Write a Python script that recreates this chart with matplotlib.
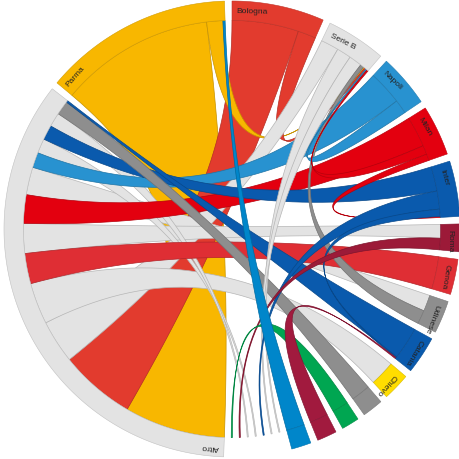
import numpy as np
import matplotlib
matplotlib.use('Agg')
import matplotlib.pyplot as plt
from matplotlib.patches import Polygon
from matplotlib.colors import to_rgb

## groups, clockwise from 12 o'clock (g* and t* are unlabeled small clubs)
groups = ['Bologna', 'Serie B', 'Napoli', 'Milan', 'Inter', 'Roma', 'Genoa',
          'Udinese', 'Catania', 'Chievo', 'g1', 'g2', 'g3', 'g4',
          't1', 't2', 't3', 't4', 't5', 't6', 't7', 'Altro', 'Parma']
labels = ['Bologna', 'Serie B', 'Napoli', 'Milan', 'Inter', 'Roma', 'Genoa',
          'Udinese', 'Catania', 'Chievo', '', '', '', '',
          '', '', '', '', '', '', '', 'Altro', 'Parma']
colors = ['#E23B2E', '#E3E3E3', '#2892D0', '#E3000F', '#0A5AAD', '#9C1A38', '#DF2E34',
          '#8E8E8E', '#0A5AAD', '#FFDD00', '#8E8E8E', '#00A651', '#A11A3E', '#0086CA',
          'none', 'none', 'none', 'none', 'none', 'none', 'none', '#E3E3E3', '#F8B700']

## flows: (group coloring the ribbon, other group, width at first end, width at second end)
flows = [
    ('Parma',   'Altro',   43.0, 28.0),
    ('Bologna', 'Altro',   18.5, 21.0),
    ('Parma',   'Serie B',  4.5, 0.4),
    ('Bologna', 'Serie B',  5.0, 0.4),
    ('Altro',   'Serie B', 12.0, 5.0),
    ('Altro',   'Chievo',  11.5, 7.0),
    ('Altro',   'Udinese',  7.7, 4.5),
    ('Altro',   'Roma',     8.3, 3.8),
    ('Altro',   't4',       4.1, 0.3),
    ('Altro',   't5',       3.95, 0.3),
    ('Genoa',   'Altro',    9.0, 8.4),
    ('Milan',   'Altro',    8.5, 7.9),
    ('Napoli',  'Altro',    9.5, 4.2),
    ('Inter',   'Altro',    6.8, 4.05),
    ('g1',      'Altro',    5.3, 3.9),
    ('Catania', 'Altro',    9.0, 0.5),
    ('Serie B', 't1',       4.0, 0.3),
    ('Serie B', 't2',       3.6, 0.3),
    ('Udinese', 'Serie B',  3.8, 1.0),
    ('Napoli',  'Serie B',  3.9, 0.4),
    ('Milan',   'Serie B',  2.5, 0.4),
    ('Milan',   'Inter',    1.8, 0.3),
    ('Inter',   't3',       5.0, 0.3),
    ('Inter',   'Catania',  2.0, 0.3),
    ('Roma',    't6',       3.2, 0.3),
    ('g2',      't7',       4.5, 0.3),
    ('g3',      'Catania',  5.0, 0.3),
    ('g4',      'Parma',    5.0, 0.6),
]

pad = 1.9
r_in, r_out = 0.915, 1.0

## chord layout: subgroups sorted descending inside each group
ends = {g: [] for g in groups}
for i, (a, b, va, vb) in enumerate(flows):
    ends[a].append((va, i, 0))
    ends[b].append((vb, i, 1))
total = sum(va + vb for _, _, va, vb in flows)
k = (360 - pad * len(groups)) / total

angle = 0.0
group_span = {}
end_span = {}
for g in groups:
    a0 = angle
    for v, i, side in sorted(ends[g], key=lambda e: -e[0]):
        end_span[(i, side)] = (angle, angle + v * k)
        angle += v * k
    group_span[g] = (a0, angle)
    angle += pad


def pol(r, th):
    th = np.radians(th)
    return np.column_stack([r * np.sin(th), r * np.cos(th)])


def arc(r, a0, a1):
    n = max(int(abs(a1 - a0) * 2), 2)
    return pol(r, np.linspace(a0, a1, n))


def bez(p0, p2, n=40):
    t = np.linspace(0, 1, n)[:, None]
    return (1 - t) ** 2 * p0 + t ** 2 * p2


def darker(c, f=0.72):
    return tuple(np.array(to_rgb(c)) * f)


fig = plt.figure(figsize=(4.6, 4.6), dpi=100)
ax = fig.add_axes([0, 0, 1, 1])
ax.set_xlim(-232 / 228, 228 / 228)
ax.set_ylim(-230 / 228, 230 / 228)
ax.axis('off')

for i, (a, b, va, vb) in enumerate(flows):
    s0, s1 = end_span[(i, 0)]
    t0, t1 = end_span[(i, 1)]
    src = arc(r_in, s0, s1)
    tgt = arc(r_in, t0, t1)
    pts = np.vstack([src, bez(src[-1], tgt[0]), tgt, bez(tgt[-1], src[0])])
    c = colors[groups.index(a)]
    ax.add_patch(Polygon(pts, closed=True, fc=c, ec=darker(c, 0.8), lw=0.5, zorder=2))

for g, lab, c in zip(groups, labels, colors):
    a0, a1 = group_span[g]
    if c == 'none':
        continue
    pts = np.vstack([arc(r_out, a0, a1), arc(r_in, a1, a0)])
    ax.add_patch(Polygon(pts, closed=True, fc=c, ec=darker(c, 0.85), lw=0.4, zorder=3))
    if lab:
        th = a0 + 1.3
        x, y = pol(0.957, th)[0]
        ax.text(x, y, lab, rotation=-th, rotation_mode='anchor', ha='left', va='center',
                fontsize=6, color='#222222', family='Liberation Sans', zorder=4)

fig.savefig('out.png', dpi=100)
